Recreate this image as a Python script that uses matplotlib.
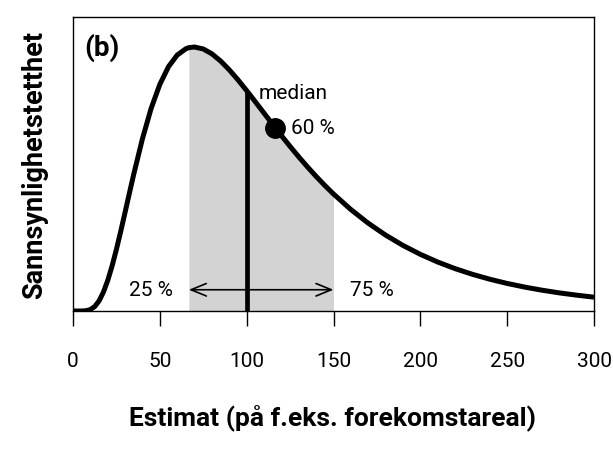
import matplotlib
matplotlib.use("Agg")
import matplotlib.pyplot as plt

# density curve (scaled density units)
x_vals = [0, 5, 7.5, 10, 12.5, 15, 17.5, 20, 22.5, 25, 27.5, 30, 32.5, 35, 40, 45, 50, 55,
          60, 65, 66.7, 70, 75, 80, 85, 90, 95, 100, 105, 110, 115, 120, 125, 130, 135,
          140, 145, 150, 160, 170, 180, 190, 200, 210, 220, 230, 240, 250, 260, 270,
          280, 290, 300]
density = [0.0, 0.0005, 0.0082, 0.043, 0.133, 0.304, 0.566, 0.920, 1.355, 1.857, 2.402,
           2.975, 3.554, 4.125, 5.191, 6.103, 6.826, 7.359, 7.709, 7.899, 7.931, 7.951,
           7.892, 7.745, 7.529, 7.263, 6.962, 6.638, 6.301, 5.959, 5.618, 5.283, 4.957,
           4.642, 4.341, 4.054, 3.781, 3.524, 3.056, 2.644, 2.286, 1.975, 1.707, 1.475,
           1.276, 1.105, 0.957, 0.830, 0.721, 0.627, 0.546, 0.477, 0.416]

q25, q75 = 66.7, 150
median_x, median_y = 100, 6.638
p60_x, p60_y = 116.4, 5.523
arrow_y = 0.64
xticks = [0, 50, 100, 150, 200, 250, 300]

plt.rcParams['font.family'] = ['Roboto', 'DejaVu Sans']

fig = plt.figure(figsize=(6.13, 4.6), dpi=100)
ax = fig.add_axes([73/613, 1-312/460, (594-73)/613, (312-18)/460])

sx = [x for x in x_vals if q25 <= x <= q75]
sy = [y for x, y in zip(x_vals, density) if q25 <= x <= q75]
ax.fill_between(sx, 0, sy, color='#d3d3d3', lw=0, zorder=1)

ax.plot(x_vals, density, color='black', lw=3.6, solid_capstyle='butt',
        solid_joinstyle='round', zorder=3)
ax.plot([median_x, median_x], [0, median_y], color='black', lw=3.4, solid_capstyle='butt', zorder=3)
ax.plot([p60_x], [p60_y], 'o', color='black', ms=14, zorder=4)

ax.annotate('', xy=(q25, arrow_y), xytext=(q75, arrow_y),
            arrowprops=dict(arrowstyle='<->,head_length=1.1,head_width=0.45', color='black',
                            lw=1.2, shrinkA=0, shrinkB=0), zorder=2)

ax.text(57.6, arrow_y, '25 %', ha='right', va='center', fontsize=15)
ax.text(159.5, arrow_y, '75 %', ha='left', va='center', fontsize=15)
ax.text(107.1, 6.596, 'median', ha='left', va='center', fontsize=15)
ax.text(125.5, 5.54, '60 %', ha='left', va='center', fontsize=15)
ax.text(6.5, 7.95, '(b)', ha='left', va='center', fontsize=20, fontweight='bold')

ax.set_xlim(0, 300)
ax.set_ylim(0, 8.855)
ax.set_yticks([])
ax.set_xticks(xticks)
ax.set_xticklabels([str(t) for t in xticks])
ax.tick_params(axis='x', length=11, width=1, pad=18, labelsize=15, direction='out')
for s in ax.spines.values():
    s.set_linewidth(1.0)

fig.text(332.5/613, 1-418/460, 'Estimat (på f.eks. forekomstareal)', ha='center', va='center',
         fontsize=19, fontweight='bold')
fig.text(35/613, 1-165/460, 'Sannsynlighetstetthet', ha='center', va='center',
         rotation=90, fontsize=19.5, fontweight='bold')

fig.savefig('out.png', dpi=100)
